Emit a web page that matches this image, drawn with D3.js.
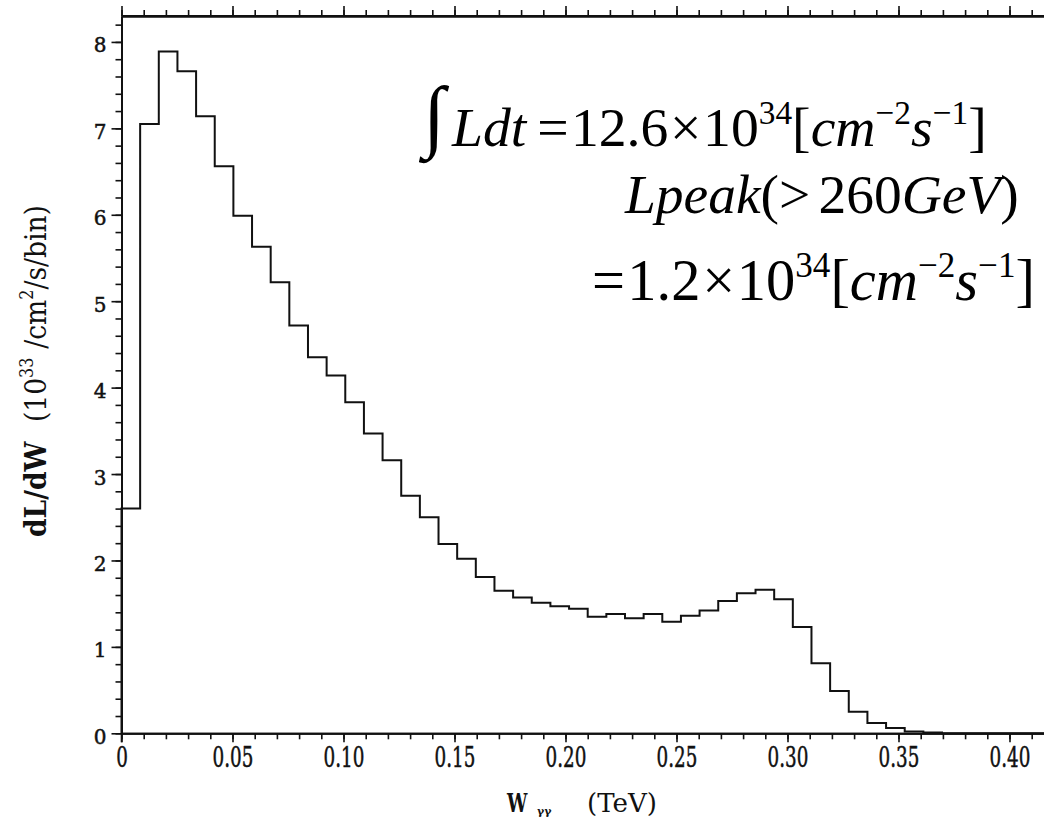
<!DOCTYPE html>
<html>
<head>
<meta charset="utf-8">
<script src="https://cdn.jsdelivr.net/npm/d3@7"></script>
<style>
html,body{margin:0;padding:0;background:#fff;overflow:hidden;}
svg{display:block;}
</style>
</head>
<body>
<svg id="chart" width="1044" height="820"></svg>
<script>
// ---- data ----
const binWidth = 0.0084;          // TeV per bin
const binValues = [2.60, 7.05, 7.89, 7.66, 7.14, 6.56, 5.99, 5.63, 5.22, 4.72,
                   4.35, 4.14, 3.83, 3.47, 3.16, 2.75, 2.50, 2.19, 2.02, 1.81,
                   1.65, 1.57, 1.51, 1.47, 1.44, 1.35, 1.38, 1.33, 1.38, 1.29,
                   1.36, 1.42, 1.53, 1.62, 1.66, 1.55, 1.23, 0.81, 0.49, 0.25,
                   0.12, 0.06, 0.02, 0.01, 0, 0, 0, 0, 0, 0];
const xMajorTicks = [0, 0.05, 0.10, 0.15, 0.20, 0.25, 0.30, 0.35, 0.40];
const xTickLabels = ["0", "0.05", "0.10", "0.15", "0.20", "0.25", "0.30", "0.35", "0.40"];
const xMinorTicks = d3.range(0, 43).map(i => i / 100);
const yMajorTicks = [0, 1, 2, 3, 4, 5, 6, 7, 8];
const yTickLabels = ["0", "1", "2", "3", "4", "5", "6", "7", "8"];
const yMinorTicks = d3.range(0, 42).map(i => i * 0.2);
const xDomain = [0, 0.42];
const yDomain = [0, 8.3];

// ---- layout ----
const svg = d3.select("#chart");
const pL = 121.5, pT = 16, pB = 733.3;
const pR = pL + 0.42 * 2220;

const x = d3.scaleLinear().domain(xDomain).range([pL, pR]);
const y = d3.scaleLinear().domain(yDomain).range([pB, pT]);

const stroke = "#111";
const serif = "DejaVu Serif";
const times = "Liberation Serif";

// frame lines (top and right)
svg.append("line").attr("x1", pL).attr("x2", pR).attr("y1", pT).attr("y2", pT)
  .attr("stroke", stroke).attr("stroke-width", 2);
svg.append("line").attr("x1", pR).attr("x2", pR).attr("y1", pT).attr("y2", pB)
  .attr("stroke", stroke).attr("stroke-width", 2);

function styleAxis(g) {
  g.select(".domain").attr("stroke", stroke).attr("stroke-width", 2);
  g.selectAll(".tick line").attr("stroke", stroke).attr("stroke-width", 1.6);
}

// bottom axis
const gxMinor = svg.append("g").attr("transform", `translate(0,${pB})`)
  .call(d3.axisBottom(x).tickValues(xMinorTicks).tickSize(6).tickSizeOuter(0).tickFormat(""));
styleAxis(gxMinor);
const gx = svg.append("g").attr("transform", `translate(0,${pB})`)
  .call(d3.axisBottom(x).tickValues(xMajorTicks).tickSize(9).tickSizeOuter(0)
    .tickFormat((d, i) => xTickLabels[i]));
styleAxis(gx);
gx.attr("font-family", serif);
gx.selectAll(".tick text")
  .attr("font-family", serif).attr("font-size", 27).attr("fill", stroke)
  .attr("stroke", stroke).attr("stroke-width", 0.5)
  .attr("y", 0).attr("dy", 0)
  .attr("transform", "translate(0,34) scale(0.68,1)");

// top axis
const gtMinor = svg.append("g").attr("transform", `translate(0,${pT})`)
  .call(d3.axisTop(x).tickValues(xMinorTicks).tickSize(6).tickSizeOuter(0).tickFormat(""));
styleAxis(gtMinor);
const gt = svg.append("g").attr("transform", `translate(0,${pT})`)
  .call(d3.axisTop(x).tickValues(xMajorTicks).tickSize(10).tickSizeOuter(0).tickFormat(""));
styleAxis(gt);

// left axis
const gyMinor = svg.append("g").attr("transform", `translate(${pL},0)`)
  .call(d3.axisLeft(y).tickValues(yMinorTicks).tickSize(6).tickSizeOuter(0).tickFormat(""));
styleAxis(gyMinor);
const gy = svg.append("g").attr("transform", `translate(${pL},0)`)
  .call(d3.axisLeft(y).tickValues(yMajorTicks).tickSize(10).tickSizeOuter(0)
    .tickFormat((d, i) => yTickLabels[i]));
styleAxis(gy);
gy.attr("font-family", serif);
gy.selectAll(".tick text")
  .attr("font-family", serif).attr("font-size", 20).attr("fill", stroke)
  .attr("stroke", stroke).attr("stroke-width", 0.5)
  .attr("x", -15).attr("dy", "0.5em");

// extend y axis slightly below 0 like the original
svg.append("line").attr("x1", pL).attr("x2", pL).attr("y1", pB).attr("y2", pB + 9)
  .attr("stroke", stroke).attr("stroke-width", 1.6);

// histogram
const pts = [[0, 0]];
binValues.forEach((v, i) => pts.push([i * binWidth, v]));
pts.push([binValues.length * binWidth, 0]);
const line = d3.line().x(d => x(d[0])).y(d => y(d[1])).curve(d3.curveStepAfter);
svg.append("path").attr("d", line(pts)).attr("fill", "none")
  .attr("stroke", stroke).attr("stroke-width", 2);

// y axis title
const yt = svg.append("text")
  .attr("transform", "translate(46,537) rotate(-90)")
  .attr("font-family", serif).attr("font-size", 30).attr("fill", stroke)
  .attr("textLength", 332).attr("lengthAdjust", "spacingAndGlyphs");
function ytSpan(txt, opts) {
  const s = yt.append("tspan").attr("font-family", serif).text(txt);
  if (opts.b) s.attr("font-weight", "bold");
  if (opts.dx) s.attr("dx", opts.dx);
  if (opts.sup) s.attr("font-size", 18).attr("dy", -13);
  if (opts.down) s.attr("dy", 13);
}
ytSpan("dL/dW", {b: 1});
ytSpan("(10", {dx: 22});
ytSpan("33", {sup: 1});
ytSpan("/cm", {down: 1, dx: 10});
ytSpan("2", {sup: 1});
ytSpan("/s/bin)", {down: 1});

// x axis title
svg.append("text").attr("transform", "translate(507,812) scale(0.7,1)")
  .attr("font-family", serif).attr("font-size", 26).attr("font-weight", "bold")
  .attr("fill", stroke).text("W");
svg.append("text").attr("x", 537).attr("y", 815)
  .attr("font-family", serif).attr("font-size", 11).attr("font-weight", "bold")
  .attr("fill", stroke).text("γγ");
svg.append("text").attr("x", 587).attr("y", 812)
  .attr("font-family", serif).attr("font-size", 26)
  .attr("fill", stroke).attr("textLength", 70).attr("lengthAdjust", "spacingAndGlyphs").text("(TeV)");

// annotation formulas
svg.append("text").attr("x", 423).attr("y", 142)
  .attr("font-family", times).attr("font-size", 80).attr("fill", "#000").text("\u222b");

function formula(xs, ys, width, parts) {
  const t = svg.append("text").attr("x", xs).attr("y", ys)
    .attr("font-family", times).attr("font-size", 50).attr("fill", "#000");
  parts.forEach(p => {
    const s = t.append("tspan").attr("font-family", times).text(p.t);
    if (p.i) s.attr("font-style", "italic");
    if (p.dx) s.attr("dx", p.dx);
    if (p.sup) s.attr("font-size", "0.6em").attr("dy", "-0.65em");
    if (p.down) s.attr("dy", "0.39em");
  });
  const w = t.node().getBBox().width;
  t.attr("font-size", 50 * width / w);
}
formula(452, 146, 536, [
  {t: "Ldt", i: 1}, {t: "=", dx: "0.2em"}, {t: "12.6", dx: "0.04em"},
  {t: "\u00d7", dx: "0.03em"}, {t: "10", dx: "0.03em"}, {t: "34", sup: 1},
  {t: "[", down: 1}, {t: "cm", i: 1}, {t: "\u22122", sup: 1},
  {t: "s", i: 1, down: 1}, {t: "\u22121", sup: 1}, {t: "]", down: 1}
]);
formula(625, 213, 395, [
  {t: "Lpeak", i: 1}, {t: "(>"}, {t: "260", dx: "0.15em"}, {t: "GeV", i: 1}, {t: ")"}
]);
formula(592, 300, 443, [
  {t: "="}, {t: "1.2", dx: "0.04em"}, {t: "\u00d7", dx: "0.03em"}, {t: "10", dx: "0.03em"},
  {t: "34", sup: 1},
  {t: "[", down: 1}, {t: "cm", i: 1}, {t: "\u22122", sup: 1},
  {t: "s", i: 1, down: 1}, {t: "\u22121", sup: 1}, {t: "]", down: 1}
]);
</script>
</body>
</html>
